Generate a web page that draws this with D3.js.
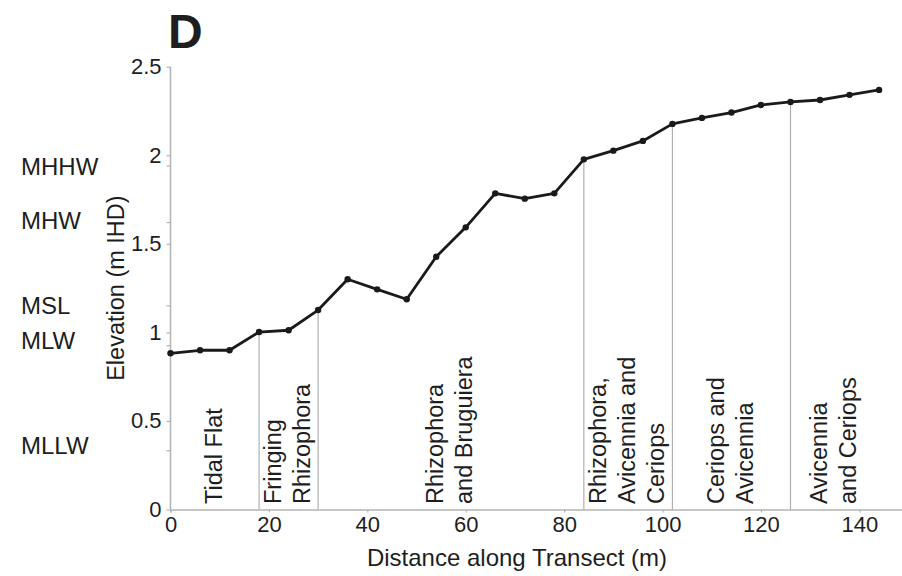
<!DOCTYPE html>
<html>
<head>
<meta charset="utf-8">
<script src="https://cdn.jsdelivr.net/npm/d3@7/dist/d3.min.js"></script>
<style>
  html, body { margin: 0; padding: 0; background: #fff; }
  svg text { font-family: "Liberation Sans", Arial, sans-serif; fill: #1e1e1e; }
</style>
</head>
<body>
<svg id="chart" width="902" height="576"></svg>
<script>
// Elevation profile along the transect (distance in m, elevation in m IHD)
const distance = [0, 6, 12, 18, 24, 30, 36, 42, 48, 54, 60, 66, 72, 78, 84, 90, 96, 102, 108, 114, 120, 126, 132, 138, 144];
const elevation = [0.882, 0.899, 0.899, 1.002, 1.012, 1.126, 1.300, 1.243, 1.187, 1.427, 1.593, 1.785, 1.755, 1.785, 1.977, 2.026, 2.081, 2.177, 2.211, 2.241, 2.284, 2.301, 2.312, 2.341, 2.369];

// Vegetation zone boundaries (m) and zone names
const zoneBreaks = [18, 30, 84, 102, 126];
const zoneStarts = [0, 18, 30, 84, 102, 126];
const zoneEnds = [18, 30, 84, 102, 126, 144];
const zoneNames = [
  ["Tidal Flat"],
  ["Fringing", "Rhizophora"],
  ["Rhizophora", "and Bruguiera"],
  ["Rhizophora,", "Avicennia and", "Ceriops"],
  ["Ceriops and", "Avicennia"],
  ["Avicennia", "and Ceriops"]
];

// Tidal datums (m IHD)
const tideNames = ["MHHW", "MHW", "MSL", "MLW", "MLLW"];
const tideLevels = [1.94, 1.62, 1.15, 0.925, 0.332];

const xTicks = [0, 20, 40, 60, 80, 100, 120, 140];
const yTicks = [0, 0.5, 1, 1.5, 2, 2.5];

const svg = d3.select("#chart");
const x = d3.scaleLinear().domain([0, 150]).range([170.5, 908.6]);
const y = d3.scaleLinear().domain([0, 2.5]).range([509.5, 66.7]);

const axisColor = "#b4b4b4";
const fs = 23.5;

// Panel letter
svg.append("text").attr("x", 168).attr("y", 48)
  .attr("font-size", 48).attr("font-weight", "bold").text("D");

// Zone boundary lines from the ground surface down to the axis
const pointAt = d => elevation[distance.indexOf(d)];
svg.append("g").selectAll("line").data(zoneBreaks).join("line")
  .attr("x1", d => x(d)).attr("x2", d => x(d))
  .attr("y1", y(0)).attr("y2", d => y(pointAt(d)))
  .attr("stroke", "#b0b0b0").attr("stroke-width", 1.2);

// Y axis with datum ticks
const yAxis = svg.append("g").attr("transform", `translate(${x(0)},0)`)
  .call(d3.axisLeft(y).tickValues(yTicks).tickSize(4).tickPadding(5)
    .tickFormat(d => d3.format("")(d)));
yAxis.append("g").selectAll("line").data(tideLevels).join("line")
  .attr("x1", -4).attr("x2", 0).attr("y1", d => y(d)).attr("y2", d => y(d));

// X axis
const xAxis = svg.append("g").attr("transform", `translate(0,${y(0)})`)
  .call(d3.axisBottom(x).tickValues(xTicks).tickSize(3).tickPadding(4));

[yAxis, xAxis].forEach(g => {
  g.select(".domain").attr("stroke", axisColor).attr("stroke-width", 1.5);
  g.selectAll("line").attr("stroke", axisColor).attr("stroke-width", 1.2);
  g.selectAll("text").attr("font-size", 22).attr("fill", "#1e1e1e")
    .attr("font-family", "Liberation Sans, Arial, sans-serif");
});
yAxis.select(".domain").attr("d", `M0,${y(0)}V${y(2.5)}`);

// Axis titles
svg.append("text").attr("x", 517).attr("y", 566)
  .attr("text-anchor", "middle").attr("font-size", 24)
  .text("Distance along Transect (m)");
svg.append("text")
  .attr("transform", `translate(124,${y(1.25)}) rotate(-90)`)
  .attr("text-anchor", "middle").attr("font-size", fs)
  .text("Elevation (m IHD)");

// Tidal datum labels (the lower two sit a little above their ticks)
const tideNudge = [1, -2, 0, -5, -5];
svg.append("g").selectAll("text").data(tideNames).join("text")
  .attr("x", 21).attr("y", (d, i) => y(tideLevels[i]) + tideNudge[i])
  .attr("dy", "0.35em").attr("font-size", 24)
  .text(d => d);

// Zone names, rotated, each centred within its zone
const lineGap = 29;
const zg = svg.append("g");
zoneNames.forEach((lines, i) => {
  const cx = x((zoneStarts[i] + zoneEnds[i]) / 2);
  lines.forEach((t, j) => {
    const lx = cx + (j - (lines.length - 1) / 2) * lineGap;
    zg.append("text")
      .attr("transform", `translate(${lx + 7},504) rotate(-90)`)
      .attr("text-anchor", "start").attr("font-size", fs)
      .text(t);
  });
});

// Elevation profile
const line = d3.line().x((d, i) => x(distance[i])).y(d => y(d));
svg.append("path").datum(elevation)
  .attr("d", line).attr("fill", "none")
  .attr("stroke", "#1a1a1a").attr("stroke-width", 2.8)
  .attr("stroke-linejoin", "round");
svg.append("g").selectAll("circle").data(elevation).join("circle")
  .attr("cx", (d, i) => x(distance[i])).attr("cy", d => y(d))
  .attr("r", 3.2).attr("fill", "#1a1a1a");
</script>
</body>
</html>
